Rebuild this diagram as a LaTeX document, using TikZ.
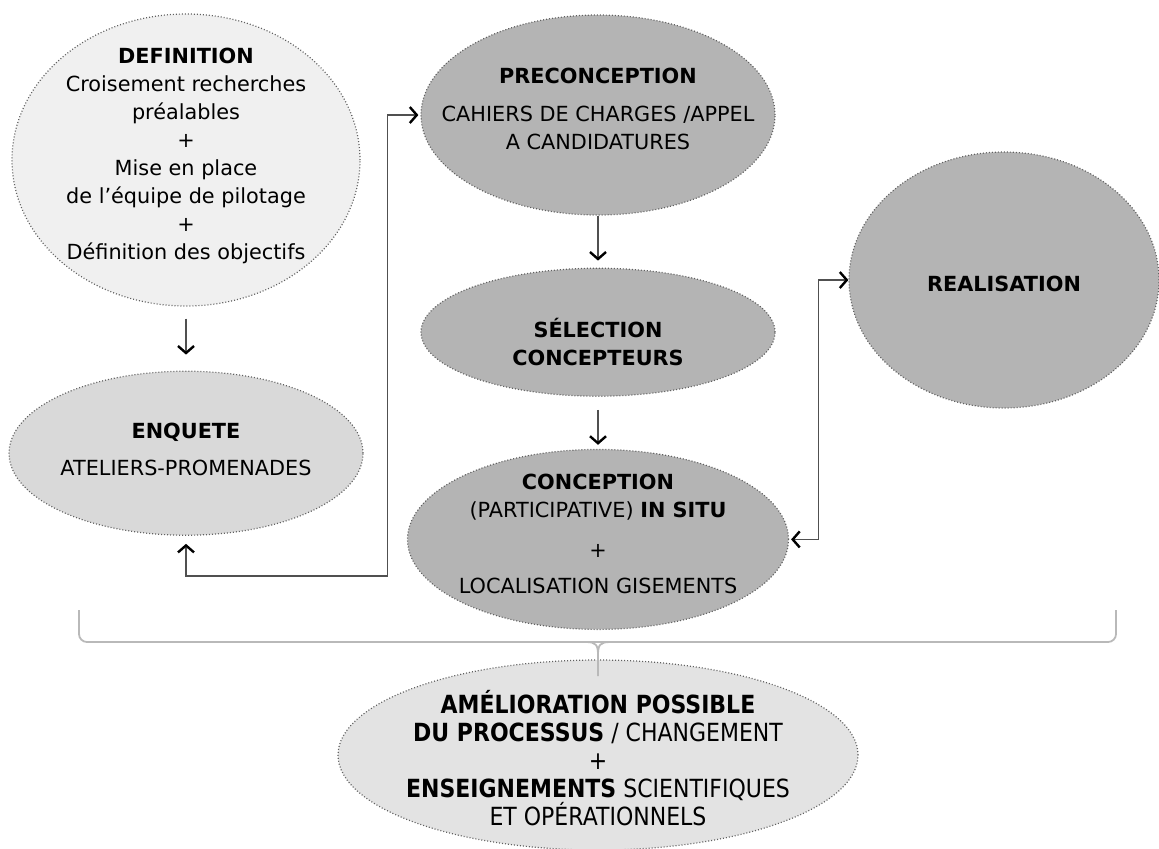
\documentclass[tikz,border=0pt]{standalone}
\usepackage{fontspec}
\usepackage{tikz}
\usepackage{xcolor}
\usetikzlibrary{arrows.meta, positioning, shapes.geometric}
\setmainfont{DejaVu Sans}
\newfontfamily\etroit[FakeStretch=0.88]{DejaVu Sans}
\definecolor{grisclair}{RGB}{240, 240, 240}
\definecolor{grismoyen}{RGB}{217, 217, 217}
\definecolor{grisfonce}{RGB}{180, 180, 180}
\definecolor{grisbas}{RGB}{227, 227, 227}
\definecolor{trait}{RGB}{80, 80, 80}

\begin{document}
\begin{tikzpicture}[
        > = {Straight Barb[length=3.5pt, width=8pt, line width=1.2pt, color=black]}, % open arrow heads
        x = 0.5pt, y = -0.5pt, % one unit = one pixel of the original
        line width = 0.7pt,
        font = \fontsize{10.4}{14}\selectfont
    ]
        \tikzstyle{bulle}=[
            ellipse,
            draw = gray!75!black,
            dash pattern = on 0.5pt off 1pt,
            line width = 0.6pt,
            inner sep = 0pt
        ]
        \tikzstyle{texte}=[align = center, inner sep = 0pt]
        \tikzstyle{fleche}=[draw = trait, line width = 0.7pt]
        \tikzstyle{accolade}=[draw = gray!55, line width = 0.9pt]

        \useasboundingbox (0,0) rectangle (1159,848);

        \node[bulle, fill = grisclair, minimum width = 348pt/2, minimum height = 292pt/2,
        label = {[texte, yshift = 2pt]center:
        \textbf{DEFINITION}\\
        Croisement recherches\\
        préalables\\
        +\\
        Mise en place\\
        de l’équipe de pilotage\\
        +\\
        Définition des objectifs}]
        (defi) at (186,160) {};

        \node[bulle, fill = grismoyen, minimum width = 354pt/2, minimum height = 164pt/2,
        label = {[texte, yshift = 2pt]center:
        \textbf{ENQUETE}\\[4.5pt]
        ATELIERS-PROMENADES}]
        (enq) [below=32pt of defi] {};

        \node[bulle, fill = grisfonce, minimum width = 354pt/2, minimum height = 200pt/2,
        label = {[texte, yshift = 3pt]center:
        \textbf{PRECONCEPTION}\\[5pt]
        CAHIERS DE CHARGES /APPEL\\
        A CANDIDATURES}]
        (prec) at (598,115) {};

        \node[bulle, fill = grisfonce, minimum width = 354pt/2, minimum height = 128pt/2,
        label = {[texte, yshift = -5pt]center:
        \textbf{SÉLECTION}\\
        \textbf{CONCEPTEURS}}]
        (sel) [below=26pt of prec] {};

        \node[bulle, fill = grisfonce, minimum width = 381pt/2, minimum height = 180pt/2,
        label = {[texte, yshift = 2.5pt]center:
        \textbf{CONCEPTION}\\
        (PARTICIPATIVE) \textbf{IN SITU}\\[6pt]
        +\\[4pt]
        LOCALISATION GISEMENTS}]
        (conc) [below=26pt of sel] {};

        \node[bulle, fill = grisfonce, minimum width = 310pt/2, minimum height = 256pt/2,
        label = {[texte, yshift = -2pt]center:\textbf{REALISATION}}]
        (real) at (1004,280) {};

        \node[bulle, fill = grisbas, minimum width = 520pt/2, minimum height = 190pt/2,
        label = {[texte, yshift = -1.5pt, font = \etroit\fontsize{12.5}{14}\selectfont]center:
        \textbf{AMÉLIORATION POSSIBLE}\\
        \textbf{DU PROCESSUS} / CHANGEMENT\\
        +\\
        \textbf{ENSEIGNEMENTS} SCIENTIFIQUES\\
        ET OPÉRATIONNELS}]
        (amel) at (598,755) {};

        % liaisons
        \path[fleche, ->, shorten < = 6pt, shorten > = 8pt] (defi) edge (enq);
        \path[fleche, ->, shorten > = 3.5pt] (prec) edge (sel);
        \path[fleche, ->, shorten < = 6.5pt, shorten > = 2pt] (sel) edge (conc);

        \draw[fleche, <->, shorten < = 1pt, shorten > = 4pt]
        (prec.west) -- ++(-33,0) |- ([yshift=-20pt]enq.south) -- (enq.south);

        \draw[fleche, <->, shorten > = 1pt]
        (real.west) -- ++(-30,0) |- (conc.east);

        % accolade
        \draw[accolade, rounded corners = 4pt]
        (79,610) -- (79,642) -- (1116,642) -- (1116,610);
        \draw[accolade] (586,642) .. controls (596,642) and (598,645) .. (598,655) -- (598,676);
        \draw[accolade] (610,642) .. controls (600,642) and (598,645) .. (598,655);
    \end{tikzpicture}
\end{document}
